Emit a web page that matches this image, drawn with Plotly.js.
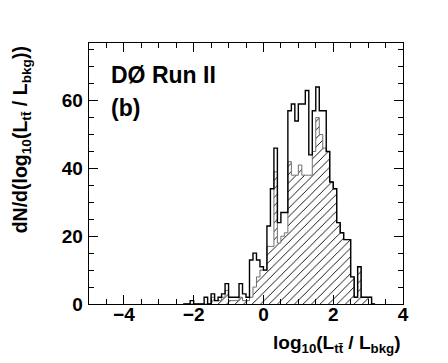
<!DOCTYPE html>
<html>
<head>
<meta charset="utf-8">
<script src="https://cdn.plot.ly/plotly-3.0.1.min.js"></script>
<style>
  html, body { margin: 0; padding: 0; background: #fff; }
  #chart { width: 448px; height: 363px; }
</style>
</head>
<body>
<div id="chart"></div>
<script>
/* ==========================================
   DATA  (histograms, bin width 0.1)
========================================== */

const binStart = -2.3;
const binWidth = 0.1;

// all selected events (open histogram)
const totalCounts = [
  0, 0, 1, 0, 0, 0, 2, 0, 3, 1,
  2, 3, 6, 2, 2, 2, 6, 3, 2, 13,
  15, 13, 11, 10, 23, 34, 46, 24, 27, 27,
  57, 59, 54, 59, 59, 63, 44, 57, 64, 57,
  57, 45, 36, 34, 24, 21, 19, 19, 8, 2,
  11, 2, 2, 2, 0
];

// expected ttbar signal (hatched histogram)
const signalCounts = [
  0, 0, 0, 0, 0, 0, 0, 0, 2, 1,
  1, 2, 4, 1, 1, 1, 2, 1, 1, 2,
  5, 8, 10, 10, 17, 17, 39, 18, 20, 21,
  42, 38, 38, 41, 38, 38, 38, 45, 55, 50,
  46, 45, 36, 34, 24, 21, 19, 19, 8, 2,
  11, 2, 2, 2, 0
];

const xTicks = [-4, -2, 0, 2, 4];
const yTicks = [0, 20, 40, 60];

const FONT = "Arial, Liberation Sans, Helvetica, sans-serif";


/* ==========================================
   STEP OUTLINE FROM BIN CONTENTS
========================================== */

function stepLine(counts){

    let x = [binStart];
    let y = [0];

    counts.forEach((c, i)=>{
        x.push(binStart + i * binWidth);
        y.push(c);
    });

    const lastEdge = binStart + counts.length * binWidth;

    x.push(lastEdge);
    y.push(counts[counts.length - 1]);

    x.push(lastEdge);
    y.push(0);

    return {x:x, y:y};
}


/* ==========================================
   DRAW
========================================== */

function drawChart(){

    const sig = stepLine(signalCounts);
    const tot = stepLine(totalCounts);

    const traces = [
        {
            x: sig.x,
            y: sig.y,
            type: "scatter",
            mode: "lines",
            line: {shape: "hv", color: "#707070", width: 1},
            fill: "tozeroy",
            fillcolor: "white",
            fillpattern: {shape: "/", fgcolor: "#000", bgcolor: "#fff", size: 6, solidity: 0.15},
            hoverinfo: "skip"
        },
        {
            x: tot.x,
            y: tot.y,
            type: "scatter",
            mode: "lines",
            line: {shape: "hv", color: "#000", width: 1.4},
            hoverinfo: "skip"
        }
    ];

    const axisCommon = {
        showline: true,
        linecolor: "#000",
        linewidth: 1.3,
        mirror: "allticks",
        ticks: "inside",
        ticklen: 9,
        tickwidth: 1,
        tickcolor: "#000",
        showgrid: false,
        zeroline: false,
        tickfont: {family: FONT, size: 19, color: "#000", weight: 700},
        fixedrange: true
    };

    const layout = {
        width: 448,
        height: 363,
        margin: {l: 89, r: 45, t: 43, b: 59},
        paper_bgcolor: "#fff",
        plot_bgcolor: "#fff",
        showlegend: false,
        font: {family: FONT, color: "#000"},
        xaxis: Object.assign({}, axisCommon, {
            range: [-5, 4],
            tickvals: xTicks,
            ticktext: xTicks.map(v => v < 0 ? "\u2212" + Math.abs(v) : String(v)),
            ticklabelstandoff: -7,
            minor: {dtick: 0.5, tick0: 0, ticks: "inside", ticklen: 5, tickcolor: "#000"}
        }),
        yaxis: Object.assign({}, axisCommon, {
            range: [0, 77],
            tickvals: yTicks,
            ticktext: yTicks.map(v => String(v)),
            ticklabelstandoff: 1,
            minor: {dtick: 5, tick0: 0, ticks: "inside", ticklen: 5, tickcolor: "#000"}
        }),
        annotations: [
            {
                text: "DØ Run II",
                xref: "paper", yref: "paper",
                x: 0.064, y: 0.877,
                xanchor: "left", yanchor: "middle",
                showarrow: false,
                font: {family: FONT, size: 23, color: "#000", weight: 700}
            },
            {
                text: "(b)",
                xref: "paper", yref: "paper",
                x: 0.064, y: 0.75,
                xanchor: "left", yanchor: "middle",
                showarrow: false,
                font: {family: FONT, size: 23, color: "#000", weight: 700}
            },
            {
                text: "log<sub>10</sub>(L<sub>tt\u0304</sub> / L<sub>bkg</sub>)",
                xref: "paper", yref: "paper",
                x: 1.0, y: -0.155,
                xanchor: "right", yanchor: "middle",
                showarrow: false,
                font: {family: FONT, size: 19, color: "#000", weight: 700}
            },
            {
                text: "dN/d(log<sub>10</sub>(L<sub>tt\u0304</sub> / L<sub>bkg</sub>))",
                xref: "paper", yref: "paper",
                x: -0.215, y: 0.995,
                xanchor: "center", yanchor: "top",
                textangle: -90,
                showarrow: false,
                font: {family: FONT, size: 19.5, color: "#000", weight: 700}
            }
        ]
    };

    Plotly.newPlot("chart", traces, layout, {staticPlot: true, displayModeBar: false});
}

drawChart();
</script>
</body>
</html>
